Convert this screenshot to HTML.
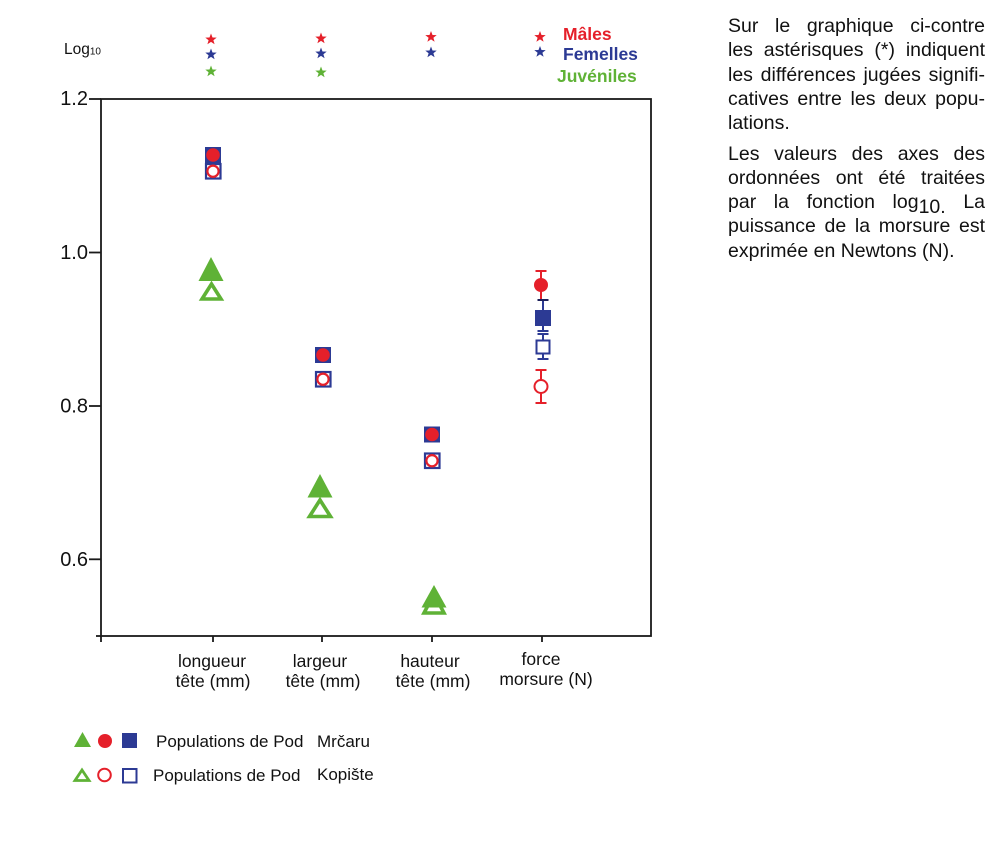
<!DOCTYPE html>
<html>
<head>
<meta charset="utf-8">
<style>
  html,body{margin:0;padding:0;background:#fff;}
  body{width:992px;height:854px;position:relative;overflow:hidden;font-family:"Liberation Sans",Arial,sans-serif;}
  svg{position:absolute;left:0;top:0;}
  .ln{position:absolute;left:728px;width:257px;font-size:19.5px;line-height:22px;color:#111;text-align:justify;text-align-last:justify;white-space:normal;}
  .last{text-align-last:left;}
</style>
</head>
<body>
<svg width="992" height="854" viewBox="0 0 992 854" xmlns="http://www.w3.org/2000/svg" font-family="Liberation Sans, Arial, sans-serif">
  <!-- Log10 label -->
  <text x="64" y="54" font-size="15.5" fill="#111">Log<tspan font-size="10" dy="0.5">10</tspan></text>

  <!-- significance stars -->
  <g id="stars">
    <polygon fill="#e5202a" points="211,33.5 212.5,37.5 216.7,37.6 213.4,40.2 214.6,44.3 211,41.9 207.4,44.3 208.6,40.2 205.3,37.6 209.5,37.5"/>
    <polygon fill="#e5202a" points="321,32.5 322.5,36.5 326.7,36.6 323.4,39.2 324.6,43.3 321,40.9 317.4,43.3 318.6,39.2 315.3,36.6 319.5,36.5"/>
    <polygon fill="#e5202a" points="431,31 432.5,35 436.7,35.1 433.4,37.7 434.6,41.8 431,39.4 427.4,41.8 428.6,37.7 425.3,35.1 429.5,35"/>
    <polygon fill="#e5202a" points="540,31 541.5,35 545.7,35.1 542.4,37.7 543.6,41.8 540,39.4 536.4,41.8 537.6,37.7 534.3,35.1 538.5,35"/>
    <polygon fill="#2c3a94" points="211,48.5 212.5,52.5 216.7,52.6 213.4,55.2 214.6,59.3 211,56.9 207.4,59.3 208.6,55.2 205.3,52.6 209.5,52.5"/>
    <polygon fill="#2c3a94" points="321,47.5 322.5,51.5 326.7,51.6 323.4,54.2 324.6,58.3 321,55.9 317.4,58.3 318.6,54.2 315.3,51.6 319.5,51.5"/>
    <polygon fill="#2c3a94" points="431,46.5 432.5,50.5 436.7,50.6 433.4,53.2 434.6,57.3 431,54.9 427.4,57.3 428.6,53.2 425.3,50.6 429.5,50.5"/>
    <polygon fill="#2c3a94" points="540,46 541.5,50 545.7,50.1 542.4,52.7 543.6,56.8 540,54.4 536.4,56.8 537.6,52.7 534.3,50.1 538.5,50"/>
    <polygon fill="#5fb236" points="211,65.5 212.5,69.5 216.7,69.6 213.4,72.2 214.6,76.3 211,73.9 207.4,76.3 208.6,72.2 205.3,69.6 209.5,69.5"/>
    <polygon fill="#5fb236" points="321,66.5 322.5,70.5 326.7,70.6 323.4,73.2 324.6,77.3 321,74.9 317.4,77.3 318.6,73.2 315.3,70.6 319.5,70.5"/>
  </g>

  <!-- star legend -->
  <text x="563" y="40" font-size="17.5" font-weight="bold" fill="#e5202a">Mâles</text>
  <text x="563" y="60" font-size="17.5" font-weight="bold" fill="#2c3a94">Femelles</text>
  <text x="557" y="82" font-size="17.5" font-weight="bold" fill="#5fb236">Juvéniles</text>

  <!-- axes box -->
  <g stroke="#1a1a1a" stroke-width="1.8" fill="none">
    <rect x="101" y="99" width="550" height="537"/>
    <line x1="89" y1="99" x2="101" y2="99"/>
    <line x1="89" y1="252.5" x2="101" y2="252.5"/>
    <line x1="89" y1="406" x2="101" y2="406"/>
    <line x1="89" y1="559.3" x2="101" y2="559.3"/>
    <line x1="96" y1="636" x2="101" y2="636"/>
    <line x1="101" y1="636" x2="101" y2="642"/>
    <line x1="213" y1="636" x2="213" y2="642"/>
    <line x1="322" y1="636" x2="322" y2="642"/>
    <line x1="432" y1="636" x2="432" y2="642"/>
    <line x1="542" y1="636" x2="542" y2="642"/>
  </g>

  <!-- y tick labels -->
  <g font-size="20" fill="#111" text-anchor="end">
    <text x="88" y="105">1.2</text>
    <text x="88" y="259">1.0</text>
    <text x="88" y="412.5">0.8</text>
    <text x="88" y="566">0.6</text>
  </g>

  <!-- x category labels -->
  <g font-size="17.5" fill="#111" text-anchor="middle">
    <text x="212" y="667">longueur</text>
    <text x="213" y="687">tête (mm)</text>
    <text x="320" y="667">largeur</text>
    <text x="323" y="687">tête (mm)</text>
    <text x="430" y="667">hauteur</text>
    <text x="433" y="687">tête (mm)</text>
    <text x="541" y="665">force</text>
    <text x="546" y="685">morsure (N)</text>
  </g>

  <!-- ===== Longueur tête ===== -->
  <rect x="205" y="147" width="16" height="16" fill="#2c3a94"/>
  <circle cx="213" cy="155" r="6.8" fill="#e5202a"/>
  <rect x="206" y="164" width="14.5" height="14.5" fill="#fff" stroke="#2c3a94" stroke-width="2.2"/>
  <circle cx="213" cy="171.2" r="5.6" fill="#fff" stroke="#e5202a" stroke-width="2.2"/>
  <polygon points="211.5,284 202,299 221,299" fill="#fff" stroke="#5fb236" stroke-width="3.6" stroke-linejoin="miter"/>
  <polygon points="211,257 198.5,281 223.5,281" fill="#5fb236"/>

  <!-- ===== Largeur tête ===== -->
  <rect x="315" y="347" width="16" height="16" fill="#2c3a94"/>
  <circle cx="323" cy="355" r="6.8" fill="#e5202a"/>
  <rect x="316" y="372" width="14.5" height="14.5" fill="#fff" stroke="#2c3a94" stroke-width="2.2"/>
  <circle cx="323" cy="379.2" r="5.6" fill="#fff" stroke="#e5202a" stroke-width="2.2"/>
  <polygon points="320,500 309.5,516.5 330.5,516.5" fill="#fff" stroke="#5fb236" stroke-width="3.6"/>
  <polygon points="320,474 307.5,497.5 332.5,497.5" fill="#5fb236"/>

  <!-- ===== Hauteur tête ===== -->
  <rect x="424" y="426.5" width="16" height="16" fill="#2c3a94"/>
  <circle cx="432" cy="434.5" r="6.8" fill="#e5202a"/>
  <rect x="425" y="453.5" width="14.5" height="14.5" fill="#fff" stroke="#2c3a94" stroke-width="2.2"/>
  <circle cx="432" cy="460.7" r="5.6" fill="#fff" stroke="#e5202a" stroke-width="2.2"/>
  <polygon points="434,594 424,613 444,613" fill="#fff" stroke="#5fb236" stroke-width="3.6"/>
  <polygon points="434,585 421.5,607.5 446.5,607.5" fill="#5fb236"/>

  <!-- ===== Force morsure ===== -->
  <g stroke-width="2" fill="none">
    <line x1="541" y1="271" x2="541" y2="299" stroke="#e5202a"/>
    <line x1="535.5" y1="271" x2="546.5" y2="271" stroke="#e5202a"/>
    <line x1="543" y1="300" x2="543" y2="331" stroke="#2c3a94"/>
    <line x1="537.5" y1="300" x2="548.5" y2="300" stroke="#1b1f5a"/>
    <line x1="537.5" y1="331" x2="548.5" y2="331" stroke="#2c3a94"/>
    <line x1="543" y1="334" x2="543" y2="359" stroke="#2c3a94"/>
    <line x1="537.5" y1="334" x2="548.5" y2="334" stroke="#2c3a94"/>
    <line x1="537.5" y1="359" x2="548.5" y2="359" stroke="#2c3a94"/>
    <line x1="541" y1="370" x2="541" y2="403" stroke="#e5202a"/>
    <line x1="535.5" y1="370" x2="546.5" y2="370" stroke="#e5202a"/>
    <line x1="535.5" y1="403" x2="546.5" y2="403" stroke="#e5202a"/>
  </g>
  <circle cx="541" cy="285" r="7" fill="#e5202a"/>
  <rect x="535" y="310" width="16" height="16" fill="#2c3a94"/>
  <rect x="536.5" y="340.5" width="13" height="13" fill="#fff" stroke="#2c3a94" stroke-width="2"/>
  <circle cx="541" cy="386.5" r="6.5" fill="#fff" stroke="#e5202a" stroke-width="2"/>

  <!-- ===== bottom legend ===== -->
  <polygon points="82.5,732 74,747 91,747" fill="#5fb236"/>
  <circle cx="105" cy="741" r="7" fill="#e5202a"/>
  <rect x="122" y="733" width="15" height="15" fill="#2c3a94"/>
  <polygon points="82,770 75,780.5 89,780.5" fill="none" stroke="#5fb236" stroke-width="2.8"/>
  <circle cx="104.5" cy="775" r="6.3" fill="#fff" stroke="#e5202a" stroke-width="2"/>
  <rect x="123" y="769" width="13.5" height="13.5" fill="#fff" stroke="#2c3a94" stroke-width="2"/>

  <g font-size="17" fill="#111">
    <text x="156" y="747">Populations de Pod</text>
    <text x="317" y="747">Mrčaru</text>
    <text x="153" y="781">Populations de Pod</text>
    <text x="317" y="780">Kopište</text>
  </g>
</svg>

<!-- right-hand explanatory text -->
<div class="ln" style="top:15px;">Sur le graphique ci-contre</div>
<div class="ln" style="top:39.3px;">les astérisques (*) indiquent</div>
<div class="ln" style="top:63.6px;">les différences jugées signifi-</div>
<div class="ln" style="top:87.9px;">catives entre les deux popu-</div>
<div class="ln last" style="top:112.2px;">lations.</div>
<div class="ln" style="top:142.5px;">Les valeurs des axes des</div>
<div class="ln" style="top:166.8px;">ordonnées ont été traitées</div>
<div class="ln" style="top:191.1px;">par la fonction log<span style="position:relative;top:5px;">10.</span> La</div>
<div class="ln" style="top:215.4px;">puissance de la morsure est</div>
<div class="ln last" style="top:239.7px;">exprimée en Newtons (N).</div>
</body>
</html>
